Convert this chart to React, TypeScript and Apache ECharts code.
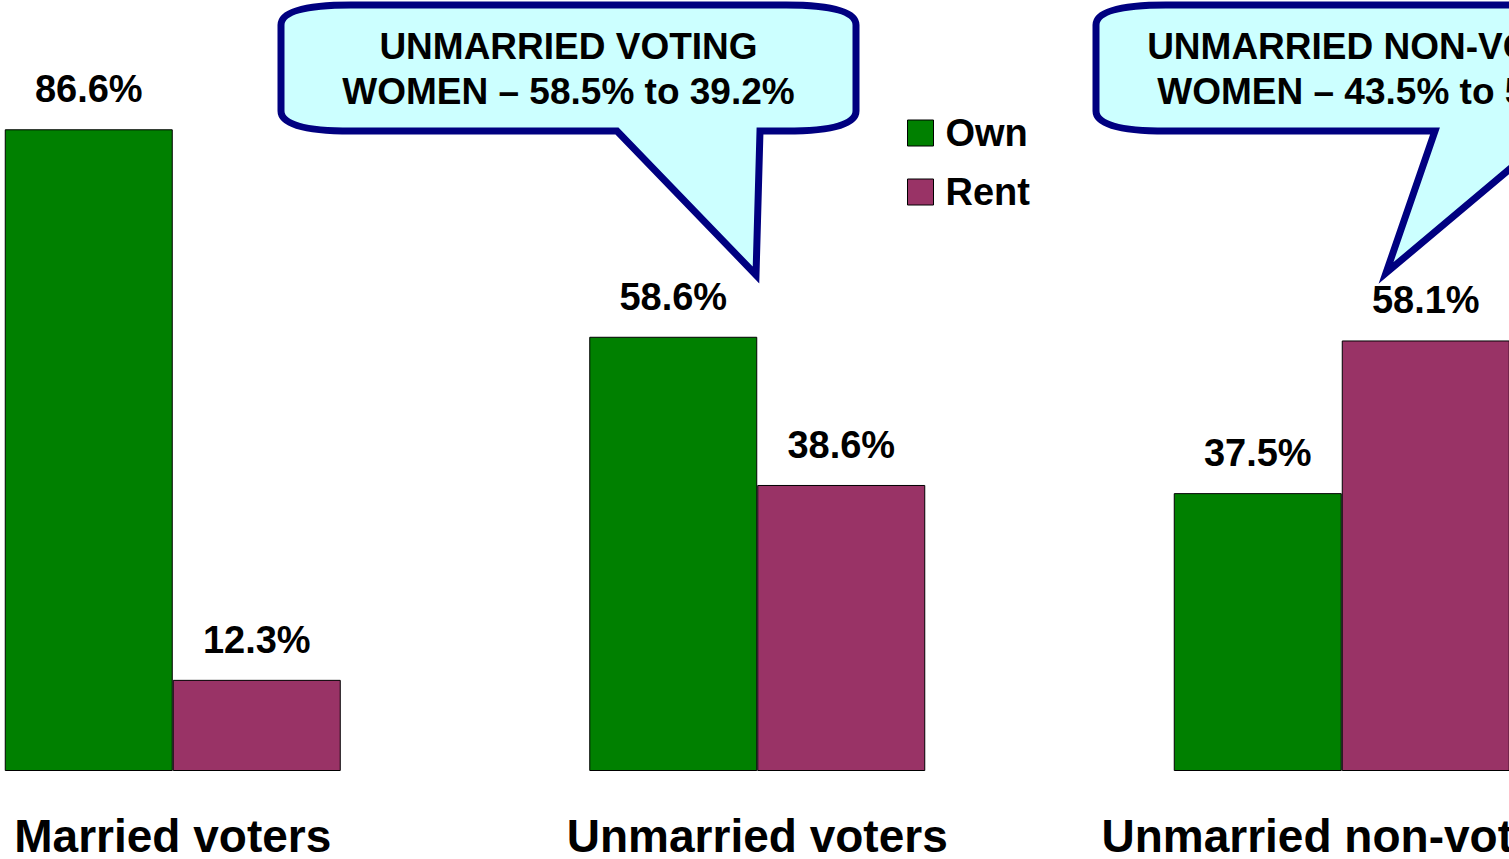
import React, { useEffect, useRef } from "react";
import * as echarts from "echarts";

const categories = ["Married voters", "Unmarried voters", "Unmarried non-voters"];
const seriesNames = ["Own", "Rent"];
const ownValues = [86.6, 58.6, 37.5];
const rentValues = [12.3, 38.6, 58.1];
const calloutVoting = ["UNMARRIED VOTING", "WOMEN – 58.5% to 39.2%"];
const calloutNonVoting = ["UNMARRIED NON-VOTING", "WOMEN – 43.5% to 53.6%"];

const FONT = "Arial, 'Liberation Sans', Helvetica, sans-serif";

// chart canvas is shifted left by OFFSET so the first group sits at the reference position
const OFFSET = 120;
const CHART_W = 1760;

const bubble1 =
  "M281,25 Q281,5 351,5 L786,5 Q856,5 856,25 L856,111 Q856,131 786,131 L760,131 L756,275 L617,131 L351,131 Q281,131 281,111 Z";
const bubble2 =
  "M1096,25 Q1096,5 1166,5 L1601,5 Q1671,5 1671,25 L1671,111 Q1671,131 1601,131 L1555,131 L1386,273 L1435,131 L1166,131 Q1096,131 1096,111 Z";

let registered = false;
function registerShapes() {
  if (registered) return;
  echarts.graphic.registerShape("bubble1", echarts.graphic.extendPath(bubble1, {}));
  echarts.graphic.registerShape("bubble2", echarts.graphic.extendPath(bubble2, {}));
  registered = true;
}

export default function App() {
  const ref = useRef<HTMLDivElement>(null);
  useEffect(() => {
    if (!ref.current) return;
    registerShapes();
    const chart = echarts.init(ref.current, null, { renderer: "svg" });
    const bubbleStyle = {
      fill: "#CCFFFF",
      stroke: "#000080",
      lineWidth: 7,
      lineJoin: "miter",
      miterLimit: 20,
    };
    const textStyle = (t: string, x: number, y: number) => ({
      type: "text",
      x: x + OFFSET,
      y,
      z: 10,
      style: {
        text: t,
        fill: "#000",
        font: `bold 37px ${FONT}`,
        align: "center",
        verticalAlign: "middle",
      },
    });
    const labelCfg = {
      show: true,
      position: "top",
      distance: 21,
      formatter: (p: any) => p.value.toFixed(1) + "%",
      color: "#000",
      fontSize: 38,
      fontWeight: "bold",
      fontFamily: FONT,
      lineHeight: 38,
    };
    chart.setOption({
      animation: false,
      backgroundColor: "#fff",
      grid: { left: 0.5, right: CHART_W - 0.5 - 1753.5, top: 30, bottom: 88, containLabel: false },
      legend: {
        orient: "vertical",
        left: 907 + OFFSET,
        top: 114,
        padding: 0,
        itemWidth: 26,
        itemHeight: 26,
        itemGap: 21,
        icon: "rect",
        itemStyle: { borderColor: "#000", borderWidth: 1 },
        textStyle: {
          color: "#000",
          fontSize: 38,
          fontWeight: "bold",
          fontFamily: FONT,
          lineHeight: 26,
          padding: [0, 0, 0, 7],
        },
        data: seriesNames,
      },
      xAxis: {
        type: "category",
        data: categories,
        axisLine: { show: false },
        axisTick: { show: false },
        axisLabel: {
          interval: 0,
          margin: 42,
          color: "#000",
          fontSize: 46,
          fontWeight: "bold",
          fontFamily: FONT,
          lineHeight: 46,
        },
      },
      yAxis: {
        type: "value",
        min: 0,
        max: 100,
        show: false,
        splitLine: { show: false },
      },
      series: [
        {
          name: seriesNames[0],
          type: "bar",
          data: ownValues,
          barWidth: 168,
          barGap: "0%",
          itemStyle: { color: "#008000", borderColor: "#000", borderWidth: 1 },
          label: labelCfg,
        },
        {
          name: seriesNames[1],
          type: "bar",
          data: rentValues,
          barWidth: 168,
          barGap: "0%",
          itemStyle: { color: "#993366", borderColor: "#000", borderWidth: 1 },
          label: labelCfg,
        },
      ],
      graphic: [
        { type: "bubble1", x: OFFSET, y: 0, z: 5, style: bubbleStyle },
        { type: "bubble2", x: OFFSET, y: 0, z: 5, style: bubbleStyle },
        textStyle(calloutVoting[0], 568.5, 46),
        textStyle(calloutVoting[1], 568.5, 91.5),
        textStyle(calloutNonVoting[0], 1383.5, 46),
        textStyle(calloutNonVoting[1], 1383.5, 91.5),
      ],
    });
    return () => chart.dispose();
  }, []);
  return (
    <div
      style={{ position: "fixed", left: 0, top: 0, width: 1509, height: 859, overflow: "hidden", background: "#fff" }}
    >
      <div
        ref={ref}
        style={{ position: "absolute", left: -OFFSET, top: 0, width: CHART_W, height: 859 }}
      />
    </div>
  );
}
